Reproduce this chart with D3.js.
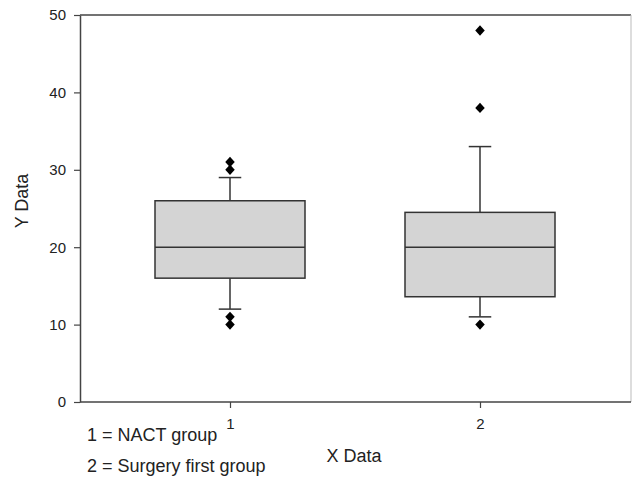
<!DOCTYPE html>
<html>
<head>
<meta charset="utf-8">
<script src="https://cdnjs.cloudflare.com/ajax/libs/d3/7.8.5/d3.min.js"></script>
<style>
  body { margin: 0; background: #fff; }
  text { font-family: Arial, "Liberation Sans", sans-serif; fill: #222; }
</style>
</head>
<body>
<div id="main"></div>
<script>
// box plot values
var groups = [1, 2];
var q1 = [16, 13.6];
var medians = [20, 20];
var q3 = [26, 24.5];
var whiskLow = [12, 11];
var whiskHigh = [29, 33];
var outliers = [[31, 30, 11, 10], [48, 38, 10]];
var yTicks = [0, 10, 20, 30, 40, 50];
var legendLines = ["1 = NACT group", "2 = Surgery first group"];

var w = 633, h = 477;

var svg = d3.select("#main")
    .append("svg")
    .attr("width", w)
    .attr("height", h);

var x = d3.scaleLinear().domain([0.4, 2.6]).range([80, 630]);
var y = d3.scaleLinear().domain([0, 50]).range([402, 15]);

var boxW = x(0.6) - x(0);
var capW = x(0.09) - x(0);

// frame
svg.append("line").attr("x1", 80).attr("x2", 631).attr("y1", 15).attr("y2", 15)
    .attr("stroke", "#444").attr("stroke-width", 1.5);
svg.append("line").attr("x1", 631).attr("x2", 631).attr("y1", 15).attr("y2", 402)
    .attr("stroke", "#bbb").attr("stroke-width", 1);

// axes
var yAxis = svg.append("g")
    .attr("transform", "translate(80,0)")
    .call(d3.axisLeft(y).tickValues(yTicks).tickSize(6).tickPadding(8).tickSizeOuter(0));
var xAxis = svg.append("g")
    .attr("transform", "translate(0,402)")
    .call(d3.axisBottom(x).tickValues(groups).tickFormat(d3.format("d"))
        .tickSize(6).tickPadding(10).tickSizeOuter(0));

[yAxis, xAxis].forEach(function(ax) {
    ax.select(".domain").attr("stroke", "#444").attr("stroke-width", 1.5);
    ax.selectAll(".tick line").attr("stroke", "#444").attr("stroke-width", 1.2);
    ax.selectAll(".tick text").style("font-size", "15px").attr("fill", "#222")
        .style("font-family", "Arial, 'Liberation Sans', sans-serif");
});
// extend x domain line across full width
xAxis.select(".domain").attr("d", "M80,0H631");

var data = groups.map(function(g, i) {
    return {g: g, q1: q1[i], med: medians[i], q3: q3[i], lo: whiskLow[i], hi: whiskHigh[i], out: outliers[i]};
});

var box = svg.selectAll(".box")
    .data(data)
    .enter()
    .append("g")
    .attr("class", "box");

// whiskers
box.append("line")
    .attr("x1", function(d) { return x(d.g); })
    .attr("x2", function(d) { return x(d.g); })
    .attr("y1", function(d) { return y(d.hi); })
    .attr("y2", function(d) { return y(d.q3); })
    .attr("stroke", "#333").attr("stroke-width", 1.5);
box.append("line")
    .attr("x1", function(d) { return x(d.g); })
    .attr("x2", function(d) { return x(d.g); })
    .attr("y1", function(d) { return y(d.q1); })
    .attr("y2", function(d) { return y(d.lo); })
    .attr("stroke", "#333").attr("stroke-width", 1.5);
box.append("line")
    .attr("x1", function(d) { return x(d.g) - capW / 2; })
    .attr("x2", function(d) { return x(d.g) + capW / 2; })
    .attr("y1", function(d) { return y(d.hi); })
    .attr("y2", function(d) { return y(d.hi); })
    .attr("stroke", "#333").attr("stroke-width", 1.5);
box.append("line")
    .attr("x1", function(d) { return x(d.g) - capW / 2; })
    .attr("x2", function(d) { return x(d.g) + capW / 2; })
    .attr("y1", function(d) { return y(d.lo); })
    .attr("y2", function(d) { return y(d.lo); })
    .attr("stroke", "#333").attr("stroke-width", 1.5);

// box body
box.append("rect")
    .attr("x", function(d) { return x(d.g) - boxW / 2; })
    .attr("y", function(d) { return y(d.q3); })
    .attr("width", boxW)
    .attr("height", function(d) { return y(d.q1) - y(d.q3); })
    .attr("fill", "#d4d4d4")
    .attr("stroke", "#333").attr("stroke-width", 1.5);

// median
box.append("line")
    .attr("x1", function(d) { return x(d.g) - boxW / 2; })
    .attr("x2", function(d) { return x(d.g) + boxW / 2; })
    .attr("y1", function(d) { return y(d.med); })
    .attr("y2", function(d) { return y(d.med); })
    .attr("stroke", "#333").attr("stroke-width", 1.5);

// outliers as diamonds
var diamond = {
    draw: function(ctx, size) {
        var r = Math.sqrt(size) / 2;
        ctx.moveTo(0, -r * 1.1);
        ctx.lineTo(r, 0);
        ctx.lineTo(0, r * 1.1);
        ctx.lineTo(-r, 0);
        ctx.closePath();
    }
};
box.each(function(d) {
    d3.select(this).selectAll("path.out")
        .data(d.out)
        .enter()
        .append("path")
        .attr("class", "out")
        .attr("d", d3.symbol().type(diamond).size(90))
        .attr("transform", function(v) { return "translate(" + x(d.g) + "," + y(v) + ")"; })
        .attr("fill", "#000");
});

// axis titles
svg.append("text")
    .attr("transform", "translate(28,201) rotate(-90)")
    .attr("text-anchor", "middle")
    .style("font-size", "18px")
    .text("Y Data");
svg.append("text")
    .attr("x", 354)
    .attr("y", 462)
    .attr("text-anchor", "middle")
    .style("font-size", "18px")
    .text("X Data");

// legend note
svg.selectAll(".legend")
    .data(legendLines)
    .enter()
    .append("text")
    .attr("class", "legend")
    .attr("x", 87)
    .attr("y", function(d, i) { return 441 + i * 31; })
    .style("font-size", "18px")
    .text(function(d) { return d; });
</script>
</body>
</html>
